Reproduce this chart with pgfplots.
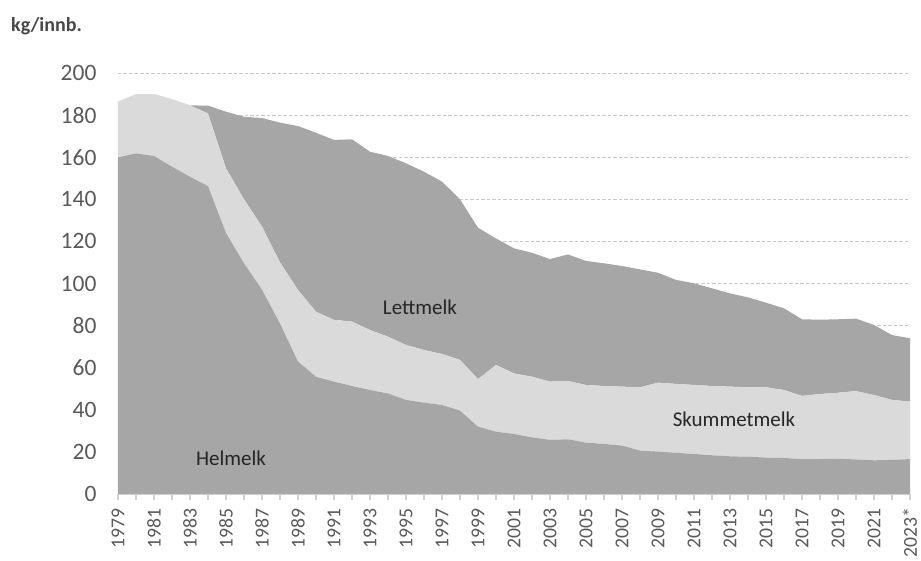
\documentclass[border=0pt]{standalone}
\usepackage{fontspec}
\setmainfont{Carlito}
\usepackage{pgfplots}
\pgfplotsset{compat=1.18}
\definecolor{areadark}{HTML}{A6A6A6}
\definecolor{arealight}{HTML}{DADADA}
\definecolor{ticktext}{HTML}{595959}
\definecolor{gridgray}{HTML}{C8C8C8}
\definecolor{axisgray}{HTML}{D0D0D0}
\begin{document}
\begin{tikzpicture}
\path[use as bounding box] (-118pt,-67pt) rectangle (803pt,494pt);
\begin{axis}[
  at={(0,0)}, anchor=south west,
  scale only axis, width=792pt, height=421pt,
  xmin=1979, xmax=2023, ymin=0, ymax=200,
  enlargelimits=false,
  stack plots=y,
  axis x line=bottom, axis y line=left,
  axis line style={-},
  x axis line style={draw=axisgray, line width=1.2pt},
  y axis line style={draw=none},
  ytick={0,20,...,200},
  ymajorgrids,
  grid style={gridgray, line width=0.9pt, dash pattern=on 3.5pt off 2pt},
  xtick={1979,1981,...,2023},
  minor xtick={1980,1982,...,2022},
  xticklabels={1979,1981,1983,1985,1987,1989,1991,1993,1995,1997,1999,2001,2003,2005,2007,2009,2011,2013,2015,2017,2019,2021,2023*},
  tick align=outside,
  major tick length=6pt,
  minor tick length=6pt,
  xtick style={draw=axisgray, line width=1.2pt},
  minor x tick style={draw=axisgray, line width=1.2pt},
  ytick style={draw=none},
  xticklabel style={rotate=90, anchor=east, font=\fontsize{19.7}{20}\selectfont, text=ticktext, inner sep=2pt, xshift=-6pt},
  yticklabel style={font=\fontsize{23.5}{24}\selectfont, text=ticktext, xshift=-12pt},
  /pgf/number format/assume math mode=true,
  axis on top=false,
]
\addplot[fill=areadark, draw=none] coordinates {
(1979,159.9) (1980,161.8) (1981,160.6) (1982,155.5) (1983,150.7) (1984,146.3)
(1985,124.0) (1986,109.6) (1987,97.0) (1988,81.0) (1989,62.9) (1990,55.7)
(1991,53.4) (1992,51.3) (1993,49.4) (1994,47.8) (1995,44.7) (1996,43.4)
(1997,42.3) (1998,39.6) (1999,32.0) (2000,29.6) (2001,28.5) (2002,26.9)
(2003,25.7) (2004,26.0) (2005,24.4) (2006,23.8) (2007,23.0) (2008,20.6)
(2009,20.1) (2010,19.6) (2011,19.0) (2012,18.4) (2013,17.9) (2014,17.7)
(2015,17.3) (2016,17.1) (2017,16.6) (2018,16.6) (2019,16.8) (2020,16.4)
(2021,16.0) (2022,16.2) (2023,16.6)
} \closedcycle;
\addplot[fill=arealight, draw=none] coordinates {
(1979,26.5) (1980,28.1) (1981,29.4) (1982,32.0) (1983,33.9) (1984,34.5)
(1985,30.7) (1986,30.4) (1987,30.0) (1988,29.0) (1989,34.0) (1990,30.9)
(1991,29.3) (1992,30.6) (1993,28.5) (1994,26.9) (1995,26.1) (1996,25.0)
(1997,24.2) (1998,24.1) (1999,22.6) (2000,31.7) (2001,28.8) (2002,28.8)
(2003,27.7) (2004,27.7) (2005,27.4) (2006,27.5) (2007,28.0) (2008,30.1)
(2009,32.8) (2010,32.7) (2011,32.8) (2012,32.9) (2013,33.1) (2014,33.0)
(2015,33.4) (2016,32.3) (2017,30.0) (2018,30.9) (2019,31.3) (2020,32.5)
(2021,31.0) (2022,28.5) (2023,27.3)
} \closedcycle;
\addplot[fill=areadark, draw=none] coordinates {
(1979,0) (1980,0) (1981,0) (1982,0) (1983,0) (1984,3.7)
(1985,26.9) (1986,39.2) (1987,51.6) (1988,66.4) (1989,77.9) (1990,85.0)
(1991,85.5) (1992,86.6) (1993,84.7) (1994,85.9) (1995,86.3) (1996,84.7)
(1997,81.9) (1998,76.3) (1999,71.9) (2000,60.1) (2001,59.4) (2002,58.9)
(2003,58.2) (2004,60.1) (2005,58.9) (2006,58.3) (2007,57.3) (2008,56.0)
(2009,52.2) (2010,49.4) (2011,48.3) (2012,46.4) (2013,44.3) (2014,42.7)
(2015,40.2) (2016,38.8) (2017,36.4) (2018,35.3) (2019,34.9) (2020,34.4)
(2021,33.3) (2022,30.8) (2023,30.1)
} \closedcycle;
\end{axis}
% series names, placed over the areas
\node[font=\fontsize{21}{22}\selectfont, text=black!85] at (113pt,36pt) {Helmelk};
\node[font=\fontsize{21}{22}\selectfont, text=black!85] at (302pt,187pt) {Lettmelk};
\node[font=\fontsize{21}{22}\selectfont, text=black!85] at (616pt,75pt) {Skummetmelk};
\node[anchor=west, font=\bfseries\fontsize{20}{21}\selectfont, text=ticktext!80!black, inner sep=0pt] at (-107pt,468pt) {kg/innb.};
\end{tikzpicture}
\end{document}
